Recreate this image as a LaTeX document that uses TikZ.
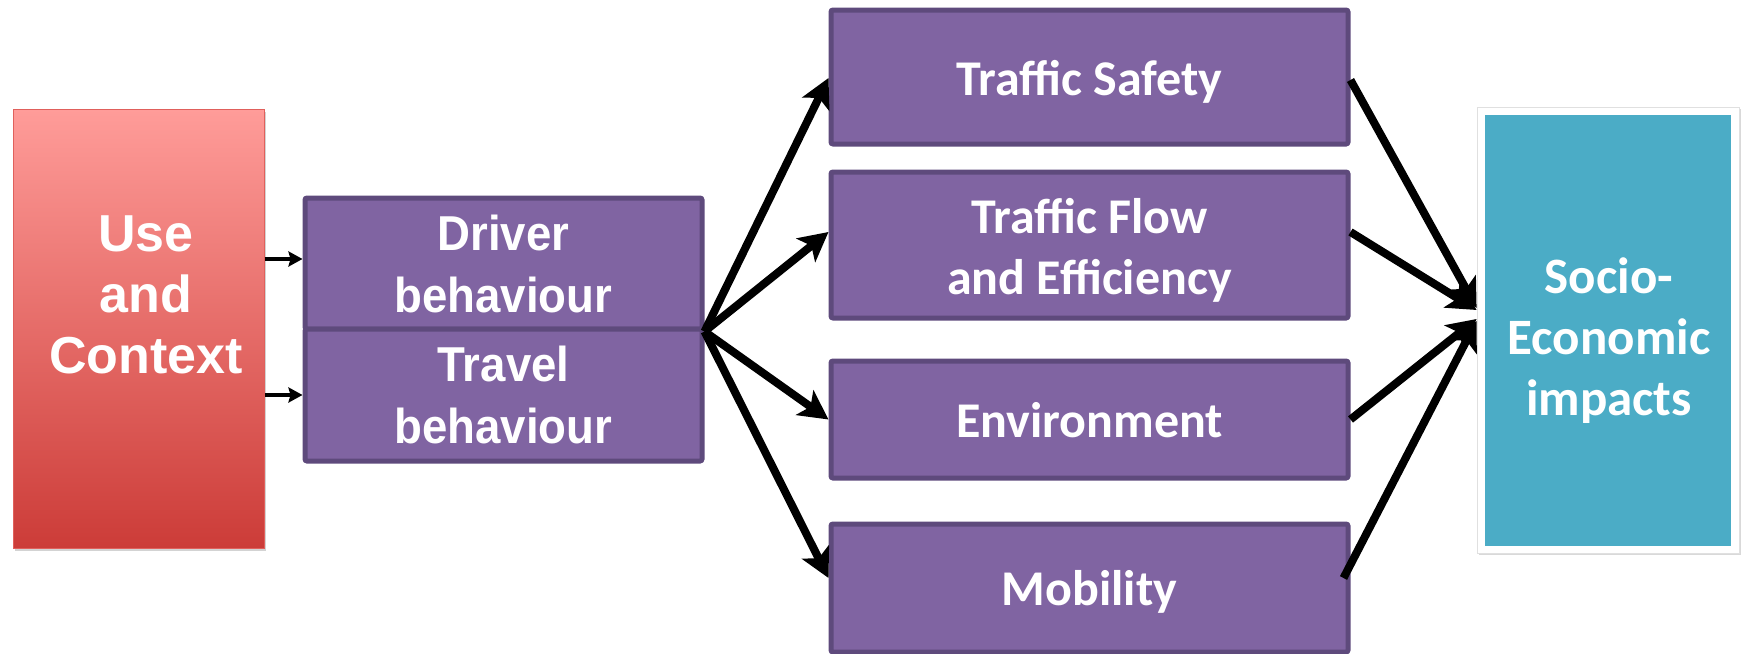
\documentclass[tikz,border=0pt]{standalone}
\usepackage{fontspec}
\setmainfont{Carlito}
\newfontfamily\arialn{Liberation Sans}[FakeStretch=0.93]
\newfontfamily\arialf{Liberation Sans}
\usetikzlibrary{arrows.meta,shadows}
\definecolor{purpfill}{HTML}{8064A2}
\definecolor{purpdraw}{HTML}{5E4A7C}
\definecolor{tealfill}{HTML}{4BACC6}
\definecolor{redtop}{HTML}{FF9C99}
\definecolor{redbot}{HTML}{CC3C38}
\definecolor{redline}{HTML}{E0605C}
\tikzset{
  pbox/.style={draw=purpdraw, fill=purpfill, line width=5pt, rounded corners=2pt, inner sep=0pt},
  wtext/.style={text=white, align=center, inner sep=0pt},
  ptext/.style={wtext, font=\bfseries\fontsize{50}{61}\selectfont},
  dbox/.style={pbox, text=white, align=center, font=\arialn\bfseries\fontsize{49}{62}\selectfont},
  bigarrow/.style={line width=8pt, -{Stealth[length=29pt,width=30pt,inset=7pt]}},
  smallarrow/.style={line width=3.5pt, -{Stealth[length=14pt,width=15pt,inset=2pt]}}
}
\begin{document}
\begin{tikzpicture}[x=1pt,y=-1pt]
\useasboundingbox (0,0) rectangle (1742,653);
% red box
\node[draw=redline, line width=1pt, top color=redtop, bottom color=redbot, minimum width=251pt, minimum height=439pt, inner sep=0pt,
  drop shadow={opacity=0.35, shadow xshift=2pt, shadow yshift=-3pt}] (use) at (138.5,328.5) {};
\node[wtext, font=\arialf\bfseries\fontsize{52}{61}\selectfont] (usetext) at (146,295) {Use\\and\\Context};
% driver / travel
\node[dbox, minimum width=397pt, minimum height=131pt] (driver) at (503.5,263.5) {Driver\\behaviour};
\node[dbox, minimum width=397pt, minimum height=132pt] (travel) at (503.5,395) {Travel\\behaviour};
% middle column
\node[pbox, minimum width=517pt, minimum height=134pt] (safety) at (1089.5,77) {};
\node[ptext] (safetytext) at (1089.5,82) {Traffic Safety};
\node[pbox, minimum width=517pt, minimum height=146pt] (flow) at (1089.5,245) {};
\node[ptext] (flowtext) at (1089.5,250) {Traffic Flow\\and Efficiency};
\node[pbox, minimum width=517pt, minimum height=117pt] (env) at (1089.5,419.5) {};
\node[ptext] (envtext) at (1089.5,420) {Environment};
\node[pbox, minimum width=517pt, minimum height=128pt] (mob) at (1089.5,588) {};
\node[ptext] (mobtext) at (1089.5,591.5) {Mobility};
% socio
\node[fill=white, draw=black!12, line width=0.8pt, minimum width=262pt, minimum height=446pt, inner sep=0pt,
  drop shadow={opacity=0.3, shadow xshift=1.5pt, shadow yshift=-2pt}] (socioout) at (1608,330) {};
\node[fill=tealfill, minimum width=246pt, minimum height=431pt, inner sep=0pt] (socio) at (1608,330) {};
\node[ptext, font=\bfseries\fontsize{51}{61}\selectfont] (sociotext) at (1609,341) {Socio-\\Economic\\impacts};
% arrows
\draw[smallarrow] ([yshift=69.5pt]use.east) -- ([yshift=69.5pt]use.east -| driver.west);
\draw[smallarrow] ([yshift=-66.5pt]use.east) -- ([yshift=-66.5pt]use.east -| travel.west);
\draw[bigarrow] (driver.south east) -- ([yshift=-1pt]safety.west);
\draw[bigarrow] (driver.south east) -- ([yshift=13pt]flow.west);
\draw[bigarrow] (driver.south east) -- (env.west);
\draw[bigarrow] (driver.south east) -- ([yshift=10pt]mob.west);
\draw[bigarrow] ([yshift=-3pt]safety.east) -- ([yshift=22pt]socioout.west);
\draw[bigarrow] ([yshift=13pt]flow.east) -- ([yshift=20pt]socioout.west);
\draw[bigarrow] (env.east) -- ([yshift=11pt]socioout.west);
\draw[bigarrow] ([xshift=-7pt,yshift=10pt]mob.east) -- ([yshift=9pt]socioout.west);
\end{tikzpicture}
\end{document}
